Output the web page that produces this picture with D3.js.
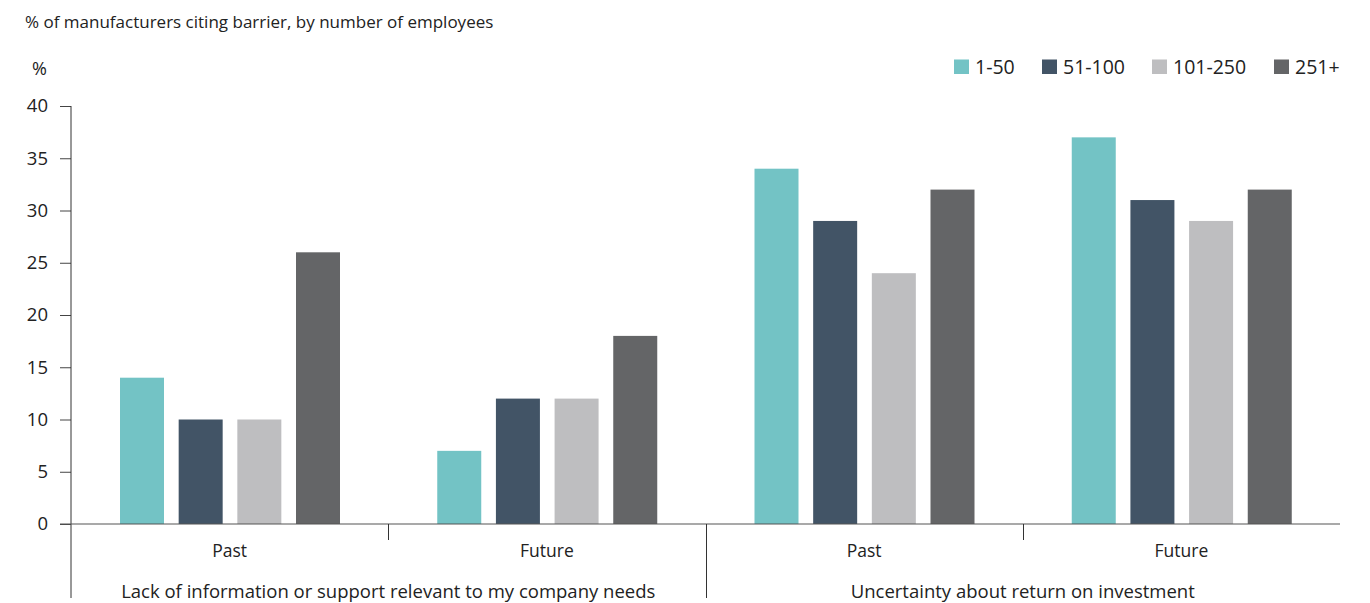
<!DOCTYPE html>
<html><head><meta charset="utf-8">
<script src="https://cdn.jsdelivr.net/npm/d3@7"></script>
<style>body{margin:0;background:#fff}svg{display:block;font-family:"Open Sans",sans-serif}</style>
</head><body><svg id="c" width="1370" height="603"></svg>
<script>
const series = ["1-50","51-100","101-250","251+"];
const colors = ["#73c3c5","#425466","#bebec0","#646567"];
const categories = ["Lack of information or support relevant to my company needs","Uncertainty about return on investment"];
const periods = ["Past","Future"];
const values_1_50 = [14,7,34,37];
const values_51_100 = [10,12,29,31];
const values_101_250 = [10,12,24,29];
const values_251 = [26,18,32,32];
const yTicks = [0,5,10,15,20,25,30,35,40];

(function(){
const allVals = [values_1_50,values_51_100,values_101_250,values_251];
const groups = [];
categories.forEach((c,ci)=>periods.forEach((p,pi)=>groups.push({key:ci+"-"+p,cat:ci,period:p,idx:ci*2+pi})));

const svg = d3.select("#c");
const mLeft = 71, mRight = 1340, mTop = 106, mBottom = 524;
const y = d3.scaleLinear().domain([0,40]).range([mBottom,mTop]);
const x0 = d3.scaleBand().domain(groups.map(g=>g.key)).range([mLeft,mRight]);
const x1 = d3.scaleBand().domain(series).range([49, 269]).paddingInner(0.25);
const color = d3.scaleOrdinal().domain(series).range(colors);

svg.append("text").attr("x",25).attr("y",28).attr("font-size",17).attr("fill","#222").text("% of manufacturers citing barrier, by number of employees");
svg.append("text").attr("x",32).attr("y",75).attr("font-size",18).attr("fill","#222").text("%");

const yAxis = d3.axisLeft(y).tickValues(yTicks).tickSize(11).tickPadding(12).tickFormat(d3.format("d"));
const ga = svg.append("g").attr("transform",`translate(${mLeft},0)`).call(yAxis);
ga.select(".domain").remove();
ga.selectAll(".tick line").attr("stroke","#444");
ga.selectAll(".tick text").attr("font-size",18.5).attr("fill","#222").attr("font-family","Open Sans");
svg.append("line").attr("x1",mLeft).attr("x2",mLeft).attr("y1",mTop).attr("y2",598).attr("stroke","#333");

groups.forEach(g=>{
  const gg = svg.append("g").attr("transform",`translate(${x0(g.key)},0)`);
  gg.selectAll("rect").data(series.map((s,si)=>({s,v:allVals[si][g.idx]}))).join("rect")
    .attr("x",d=>x1(d.s)).attr("width",x1.bandwidth())
    .attr("y",d=>y(d.v)).attr("height",d=>y(0)-y(d.v)).attr("fill",d=>color(d.s));
  svg.append("text").attr("x",x0(g.key)+x0.bandwidth()/2).attr("y",557).attr("text-anchor","middle")
    .attr("font-size",17.5).attr("fill","#222").text(g.period);
});

svg.append("line").attr("x1",60).attr("x2",mRight).attr("y1",y(0)).attr("y2",y(0)).attr("stroke","#555").attr("stroke-width",1.2);

groups.forEach((g,i)=>{
  if(i===0) return;
  const xx = Math.round(x0(g.key))+0.5;
  const major = g.period==="Past";
  svg.append("line").attr("x1",xx).attr("x2",xx).attr("y1",y(0)).attr("y2",major?598:540).attr("stroke","#333");
});

categories.forEach((c,ci)=>{
  const a = x0(ci+"-Past"), b = x0(ci+"-Future")+x0.bandwidth();
  svg.append("text").attr("x",(a+b)/2).attr("y",598).attr("text-anchor","middle").attr("font-size",18.5).attr("fill","#222").text(c);
});

const lx = [954,1042,1152,1274];
series.forEach((s,i)=>{
  svg.append("rect").attr("x",lx[i]).attr("y",59.5).attr("width",15).attr("height",14.5).attr("fill",colors[i]);
  svg.append("text").attr("x",lx[i]+21).attr("y",74).attr("font-size",19.5).attr("fill","#222").text(s);
});
})();
</script></body></html>
